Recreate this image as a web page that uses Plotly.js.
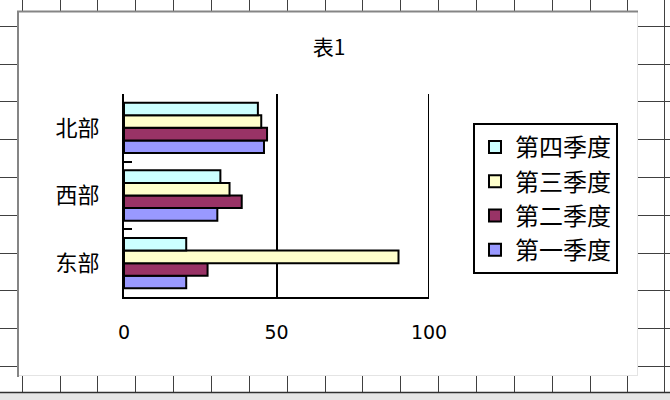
<!DOCTYPE html>
<html>
<head>
<meta charset="utf-8">
<script src="https://cdn.plot.ly/plotly-3.0.1.min.js"></script>
<style>html,body{margin:0;padding:0;background:#fff;} #chart{width:670px;height:400px;}</style>
</head>
<body>
<div id="chart"></div>
<script>
// ---- data ----
const categories = ['东部', '西部', '北部'];
const seriesNames = ['第一季度', '第二季度', '第三季度', '第四季度'];
const q1 = [20.4, 30.6, 45.9];
const q2 = [27.4, 38.6, 46.9];
const q3 = [90, 34.6, 45];
const q4 = [20.4, 31.6, 43.9];
const xTicks = [0, 50, 100];
const chartTitle = '表1';

// ---- styling ----
const colors = ['#9999FF', '#993366', '#FFFFCC', '#CCFFFF'];
const values = [q1, q2, q3, q4];
const cjk = 'Noto Sans CJK SC, sans-serif';

const traces = values.map((v, i) => ({
  type: 'bar',
  orientation: 'h',
  name: seriesNames[i],
  y: categories,
  x: v,
  marker: {color: colors[i], line: {color: '#000', width: 2}},
  hoverinfo: 'skip'
}));

// pixel -> paper helpers for decorative spreadsheet background
const L = 124, R = 241, T = 94, B = 103, W = 670, H = 400;
const PW = W - L - R, PH = H - T - B;
const px = x => (x - L) / PW;
const py = y => (H - B - y) / PH;

const vGrid = [22, 60, 97, 135, 173, 211, 249, 287, 325, 362, 400, 438, 476, 514, 552, 590, 627, 664];
const hGrid = [26, 64, 101, 139, 177, 215, 253, 290, 328, 366];

const shapes = [];
const gl = {color: '#404040', width: 1};
vGrid.forEach(x => shapes.push({type: 'line', xref: 'paper', yref: 'paper', layer: 'below',
  x0: px(x + 0.5), x1: px(x + 0.5), y0: py(0), y1: py(392), line: gl}));
hGrid.forEach(y => shapes.push({type: 'line', xref: 'paper', yref: 'paper', layer: 'below',
  x0: px(0), x1: px(670), y0: py(y + 0.5), y1: py(y + 0.5), line: gl}));
shapes.push({type: 'rect', xref: 'paper', yref: 'paper', layer: 'below',
  x0: px(0), x1: px(670), y0: py(393), y1: py(400), fillcolor: '#e6e6e6', line: {width: 0}});
shapes.push({type: 'line', xref: 'paper', yref: 'paper', layer: 'below',
  x0: px(0), x1: px(670), y0: py(392.5), y1: py(392.5), line: {color: '#303030', width: 1.5}});
// chart area
shapes.push({type: 'rect', xref: 'paper', yref: 'paper', layer: 'below',
  x0: px(18), x1: px(638), y0: py(11), y1: py(376), fillcolor: '#ffffff', line: {width: 0}});
shapes.push({type: 'line', xref: 'paper', yref: 'paper', layer: 'below',
  x0: px(637.5), x1: px(637.5), y0: py(11), y1: py(376), line: {color: '#e4e4e4', width: 1}});
shapes.push({type: 'line', xref: 'paper', yref: 'paper', layer: 'below',
  x0: px(18), x1: px(638), y0: py(375.5), y1: py(375.5), line: {color: '#e4e4e4', width: 1}});
shapes.push({type: 'line', xref: 'paper', yref: 'paper', layer: 'below',
  x0: px(18), x1: px(18), y0: py(11), y1: py(377), line: {color: '#858585', width: 2}});
shapes.push({type: 'line', xref: 'paper', yref: 'paper', layer: 'below',
  x0: px(17), x1: px(638), y0: py(11.5), y1: py(11.5), line: {color: '#858585', width: 2}});
// gridline at the axis maximum (Plotly drops the edge gridline)
const xMax = xTicks[xTicks.length - 1];
shapes.push({type: 'line', xref: 'x', yref: 'paper', layer: 'above',
  x0: xMax, x1: xMax, y0: 0, y1: 1, line: {color: '#000', width: 2}});

const layout = {
  width: W, height: H,
  margin: {l: L, r: R, t: T, b: B, pad: 0},
  paper_bgcolor: '#ffffff',
  plot_bgcolor: 'rgba(0,0,0,0)',
  showlegend: true,
  barmode: 'group',
  bargap: 0.257,
  bargroupgap: 0,
  title: {
    text: chartTitle,
    font: {family: cjk, size: 21, color: '#000'},
    xref: 'container', yref: 'container',
    x: 329 / W, y: 1 - 47.5 / H, xanchor: 'center', yanchor: 'middle'
  },
  xaxis: {
    range: [0, xMax],
    tickvals: xTicks,
    ticktext: xTicks.map(String),
    showgrid: true, gridcolor: '#000', gridwidth: 2,
    zeroline: false,
    showline: true, linecolor: '#000', linewidth: 2,
    ticks: '',
    ticklabelstandoff: 17,
    tickfont: {family: 'DejaVu Sans, sans-serif', size: 19, color: '#000'},
    fixedrange: true
  },
  yaxis: {
    type: 'category',
    categoryorder: 'array', categoryarray: categories,
    showgrid: false, zeroline: false,
    showline: true, linecolor: '#000', linewidth: 2,
    ticks: 'inside', tickson: 'boundaries', ticklen: 8, tickwidth: 2, tickcolor: '#000',
    ticklabelstandoff: 18,
    tickfont: {family: cjk, size: 22, color: '#000'},
    fixedrange: true
  },
  legend: {
    x: px(473), y: py(123), xanchor: 'left', yanchor: 'top',
    xref: 'paper', yref: 'paper',
    traceorder: 'reversed',
    bgcolor: '#ffffff', bordercolor: '#000', borderwidth: 2,
    font: {family: cjk, size: 24, color: '#000'}
  },
  shapes: shapes
};

Plotly.newPlot('chart', traces, layout, {staticPlot: true, displayModeBar: false});
</script>
</body>
</html>
